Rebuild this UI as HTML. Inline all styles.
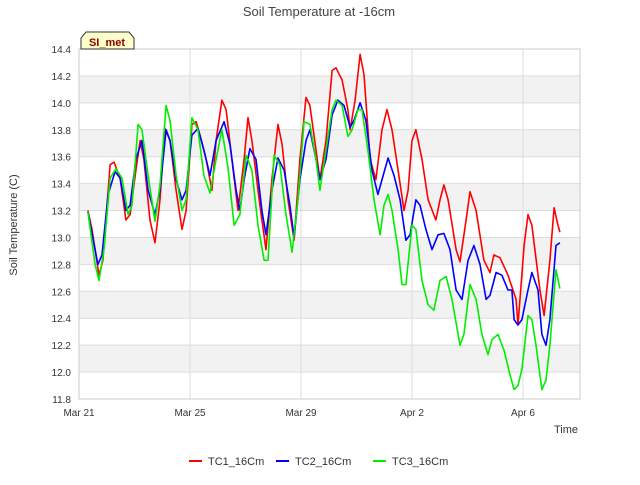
<!DOCTYPE html>
<html><head><meta charset="utf-8">
<style>
body{margin:0;background:#fff;font-family:"Liberation Sans",sans-serif;}
svg text{font-family:"Liberation Sans",sans-serif;}
</style></head>
<body>
<svg id="chart" width="640" height="480" xmlns="http://www.w3.org/2000/svg">
<text x="319" y="16" text-anchor="middle" font-size="13" fill="#444">Soil Temperature at -16cm</text>
<g id="grid"></g>
<g id="axes"></g>
<g id="series"></g>
<text x="578" y="433" text-anchor="end" font-size="11" fill="#333">Time</text>
<text transform="translate(17,225) rotate(-90)" text-anchor="middle" font-size="11" fill="#333">Soil Temperature (C)</text>
<g>
<path d="M81,49 L81,38 L86,32 L129,32 L134,38 L134,49 Z" fill="#ffffcc" stroke="#333" stroke-width="1"/>
<text x="107" y="46" text-anchor="middle" font-size="11" font-weight="bold" fill="#8b0000">SI_met</text>
</g>
<g id="legend"></g>
</svg>
<script>
const xTickLabels=["Mar 21","Mar 25","Mar 29","Apr 2","Apr 6"];
const xTickDays=[0,4,8,12,16];
const yTicks=[11.8,12.0,12.2,12.4,12.6,12.8,13.0,13.2,13.4,13.6,13.8,14.0,14.2,14.4];
const seriesNames=["TC1_16Cm","TC2_16Cm","TC3_16Cm"];
const seriesColors=["#ff0000","#0000ff","#00ee00"];
const tc1Days=[0.32,0.47,0.72,0.86,1.12,1.26,1.48,1.69,1.84,2.05,2.2,2.34,2.56,2.74,2.92,3.1,3.28,3.5,3.71,3.86,4.07,4.22,4.36,4.58,4.79,4.94,5.15,5.3,5.51,5.73,5.95,6.09,6.23,6.45,6.59,6.74,6.95,7.17,7.32,7.53,7.75,7.96,8.18,8.32,8.54,8.68,8.9,9.12,9.26,9.48,9.69,9.77,9.95,10.13,10.27,10.49,10.7,10.92,11.1,11.28,11.5,11.71,11.86,12.0,12.14,12.36,12.58,12.86,13.01,13.15,13.3,13.59,13.73,13.95,14.09,14.31,14.59,14.81,14.95,15.17,15.46,15.75,15.82,16.04,16.18,16.32,16.61,16.76,16.97,17.12,17.26,17.33];
const tc1Vals=[13.2,13.06,12.72,12.83,13.54,13.56,13.44,13.13,13.17,13.5,13.72,13.58,13.13,12.96,13.28,13.81,13.72,13.35,13.06,13.2,13.84,13.86,13.76,13.58,13.35,13.72,14.02,13.95,13.58,13.2,13.58,13.89,13.72,13.35,13.13,12.91,13.43,13.84,13.69,13.28,12.98,13.58,14.04,13.98,13.65,13.43,13.72,14.24,14.26,14.17,13.95,13.8,14.02,14.36,14.21,13.58,13.43,13.8,13.95,13.8,13.5,13.2,13.35,13.72,13.8,13.58,13.28,13.13,13.28,13.39,13.28,12.91,12.82,13.13,13.34,13.2,12.83,12.74,12.87,12.85,12.72,12.54,12.35,12.94,13.17,13.09,12.61,12.42,12.83,13.22,13.09,13.04];
const tc2Days=[0.32,0.68,0.83,1.05,1.3,1.48,1.69,1.84,2.05,2.27,2.49,2.74,2.92,3.14,3.28,3.5,3.71,3.86,4.07,4.29,4.5,4.72,4.94,5.23,5.44,5.66,5.8,5.95,6.16,6.38,6.59,6.74,6.95,7.17,7.39,7.6,7.75,7.96,8.18,8.32,8.54,8.68,8.9,9.12,9.33,9.55,9.77,9.91,10.13,10.34,10.56,10.77,10.92,11.14,11.35,11.57,11.78,11.93,12.14,12.29,12.5,12.72,12.94,13.15,13.37,13.59,13.8,14.02,14.23,14.45,14.67,14.81,15.03,15.24,15.46,15.6,15.68,15.82,15.96,16.18,16.32,16.54,16.68,16.83,16.97,17.19,17.33];
const tc2Vals=[13.19,12.8,12.87,13.32,13.49,13.44,13.2,13.24,13.58,13.72,13.35,13.17,13.35,13.8,13.72,13.43,13.28,13.35,13.76,13.81,13.65,13.46,13.72,13.86,13.69,13.35,13.2,13.43,13.66,13.58,13.2,13.02,13.35,13.59,13.5,13.24,13.0,13.43,13.72,13.8,13.58,13.43,13.58,13.91,14.02,13.98,13.82,13.87,14.0,13.87,13.5,13.32,13.43,13.59,13.46,13.28,12.98,13.02,13.28,13.24,13.06,12.91,13.02,13.03,12.91,12.61,12.54,12.83,12.94,12.8,12.54,12.57,12.74,12.72,12.61,12.61,12.39,12.35,12.39,12.61,12.74,12.61,12.28,12.2,12.39,12.94,12.96];
const tc3Days=[0.32,0.58,0.72,0.9,1.12,1.33,1.55,1.77,1.91,2.13,2.27,2.49,2.74,2.92,3.14,3.28,3.5,3.71,3.86,4.07,4.29,4.5,4.72,4.94,5.15,5.37,5.59,5.8,6.02,6.23,6.45,6.67,6.81,7.03,7.24,7.46,7.68,7.89,8.11,8.32,8.54,8.68,8.9,9.12,9.26,9.48,9.69,9.84,10.05,10.2,10.41,10.63,10.85,10.99,11.14,11.28,11.5,11.64,11.78,12.0,12.14,12.36,12.58,12.79,13.01,13.23,13.44,13.73,13.87,14.09,14.31,14.52,14.74,14.88,15.1,15.32,15.53,15.68,15.82,15.96,16.18,16.32,16.47,16.68,16.83,16.97,17.19,17.33];
const tc3Vals=[13.19,12.8,12.68,12.91,13.44,13.51,13.44,13.17,13.24,13.84,13.8,13.46,13.12,13.39,13.98,13.87,13.46,13.2,13.28,13.89,13.8,13.46,13.33,13.58,13.8,13.52,13.09,13.17,13.61,13.5,13.09,12.83,12.83,13.61,13.54,13.17,12.89,13.28,13.86,13.84,13.58,13.35,13.65,13.95,14.02,13.98,13.75,13.8,13.95,13.95,13.65,13.28,13.02,13.24,13.32,13.2,12.91,12.65,12.65,13.09,13.06,12.68,12.5,12.46,12.68,12.71,12.54,12.2,12.28,12.65,12.54,12.28,12.13,12.24,12.28,12.16,11.98,11.87,11.9,12.02,12.42,12.39,12.2,11.87,11.94,12.2,12.76,12.62];
const dayVals=[tc1Days,tc2Days,tc3Days];
const tempVals=[tc1Vals,tc2Vals,tc3Vals];

const NS="http://www.w3.org/2000/svg";
const PL=79,PR=580,PT=49,PB=399;
const yMin=11.8,yMax=14.4;
function xScale(d){return PL+d*27.75;}
function yScale(v){return PB-(v-yMin)/(yMax-yMin)*(PB-PT);}
function mk(tag,attrs,parent){const e=document.createElementNS(NS,tag);for(const k in attrs)e.setAttribute(k,attrs[k]);parent.appendChild(e);return e;}
const grid=document.getElementById('grid'),axes=document.getElementById('axes'),ser=document.getElementById('series'),leg=document.getElementById('legend');
for(let i=0;i<yTicks.length-1;i++){
  if(i%2===1){const r=mk('rect',{x:PL,y:yScale(yTicks[i+1]),width:PR-PL,height:yScale(yTicks[i])-yScale(yTicks[i+1]),fill:'#f2f2f2'},grid);
  
  }
}
yTicks.forEach(v=>{
  const l=mk('line',{x1:PL,x2:PR,y1:yScale(v),y2:yScale(v),stroke:'#dcdcdc','stroke-width':1},grid);
  
  
  const t=mk('text',{x:PL-8,y:yScale(v)+4,'text-anchor':'end','font-size':10,fill:'#333'},axes);
  t.textContent=v.toFixed(1);
  
  
});
xTickDays.forEach((d,i)=>{
  const l=mk('line',{x1:xScale(d),x2:xScale(d),y1:PT,y2:PB,stroke:'#dcdcdc','stroke-width':1},grid);
  
  
  const t=mk('text',{x:xScale(d),y:PB+17,'text-anchor':'middle','font-size':10,fill:'#333'},axes);
  t.textContent=xTickLabels[i];
  
  
});
const br=mk('rect',{x:PL,y:PT,width:PR-PL,height:PB-PT,fill:'none',stroke:'#ccc'},axes);


seriesNames.forEach((n,s)=>{
  const pts=dayVals[s].map((d,i)=>xScale(d).toFixed(1)+','+yScale(tempVals[s][i]).toFixed(1)).join(' ');
  const p=mk('polyline',{points:pts,fill:'none',stroke:seriesColors[s],'stroke-width':1.6,'stroke-linejoin':'round'},ser);
  
  
});
const legX=[189,276,373];
seriesNames.forEach((n,s)=>{
  const g=mk('g',{},leg);
  
  
  mk('line',{x1:legX[s],x2:legX[s]+13,y1:461,y2:461,stroke:seriesColors[s],'stroke-width':2},g);
  const t=mk('text',{x:legX[s]+19,y:465,'font-size':11,fill:'#333'},g);
  t.textContent=n;
});
</script>
</body></html>
